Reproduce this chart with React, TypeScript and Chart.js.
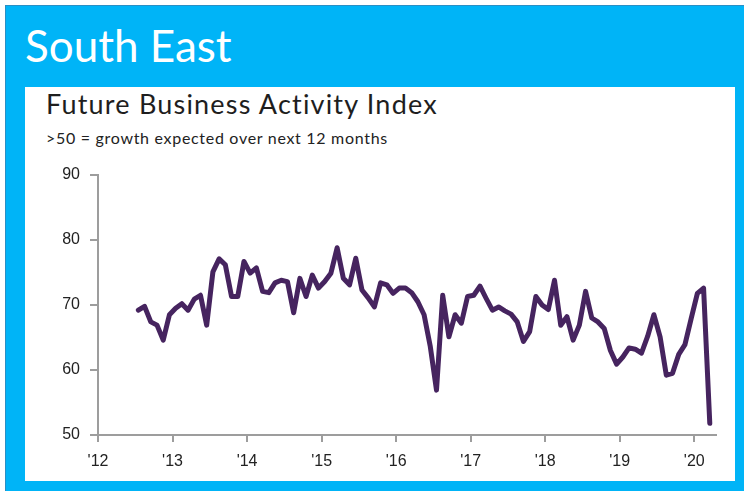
import React, { useEffect, useRef } from "react";
import { Chart, registerables } from "chart.js";

Chart.register(...registerables);

// Monthly Future Business Activity Index, South East (Jul 2012 – Mar 2020)
const startYear = 2012;
const startMonth = 6; // July (0 = January)
const values2012 = [69.2, 69.8, 67.4, 66.9, 64.6, 68.5];
const values2013 = [69.5, 70.2, 69.2, 70.9, 71.5, 66.9, 75.1, 77.1, 76.2, 71.3, 71.3, 76.7];
const values2014 = [74.9, 75.7, 72.1, 71.9, 73.4, 73.8, 73.6, 68.8, 74.1, 71.3, 74.6, 72.6];
const values2015 = [73.6, 74.9, 78.8, 74.1, 73.1, 77.2, 72.3, 71.1, 69.7, 73.4, 73.1, 71.8];
const values2016 = [72.6, 72.6, 71.9, 70.5, 68.5, 63.6, 56.9, 71.5, 65.1, 68.5, 67.2, 71.3];
const values2017 = [71.5, 72.9, 71.0, 69.2, 69.7, 69.1, 68.6, 67.4, 64.4, 65.9, 71.3, 70.0];
const values2018 = [69.3, 73.8, 66.9, 68.2, 64.6, 66.9, 72.1, 68.0, 67.4, 66.4, 63.0, 60.9];
const values2019 = [62.0, 63.4, 63.2, 62.6, 65.2, 68.5, 65.1, 59.2, 59.5, 62.4, 63.9, 67.9];
const values2020 = [71.8, 72.6, 51.8];

const yearTickLabels = ["'12", "'13", "'14", "'15", "'16", "'17", "'18", "'19", "'20"];
const yTicks = [50, 60, 70, 80, 90];

const allValues = [
  ...values2012, ...values2013, ...values2014, ...values2015, ...values2016,
  ...values2017, ...values2018, ...values2019, ...values2020,
];

export default function App() {
  const canvasRef = useRef<HTMLCanvasElement | null>(null);

  useEffect(() => {
    document.body.style.margin = "0";
    const canvas = canvasRef.current;
    if (!canvas) return;
    // x = months since Jan of startYear, plotted mid-month
    const points = allValues.map((v, i) => ({ x: startMonth + i + 0.5, y: v }));
    const axisColor = "#9d9d9d";
    const tickFont = { family: "'Liberation Sans Narrow', 'Liberation Sans', Arial, sans-serif", size: 16 };
    const chart = new Chart(canvas, {
      type: "line",
      data: {
        datasets: [
          {
            label: "South East",
            data: points,
            borderColor: "#46245f",
            borderWidth: 5,
            pointRadius: 0,
            tension: 0,
            borderJoinStyle: "round",
            borderCapStyle: "round",
            fill: false,
          },
        ],
      },
      options: {
        animation: false,
        responsive: false,
        devicePixelRatio: 1,
        layout: { padding: { top: 88, right: 19, left: 0, bottom: 0 } },
        plugins: { legend: { display: false }, tooltip: { enabled: false }, title: { display: false } },
        scales: {
          x: {
            type: "linear",
            min: 0,
            max: 99.5,
            afterBuildTicks: (scale: any) => {
              scale.ticks = yearTickLabels.map((_, i) => ({ value: i * 12 }));
            },
            afterFit: (scale: any) => {
              scale.height = 46;
            },
            ticks: {
              autoSkip: false,
              maxRotation: 0,
              color: "#222222",
              font: tickFont,
              padding: 10,
              callback: (value: any) => yearTickLabels[Math.round(Number(value) / 12)] ?? "",
            },
            grid: { drawOnChartArea: false, drawTicks: true, tickLength: 7, color: axisColor, lineWidth: 2 },
            border: { display: true, color: axisColor, width: 2 },
          },
          y: {
            min: 50,
            max: 90,
            afterBuildTicks: (scale: any) => {
              scale.ticks = yTicks.map((v) => ({ value: v }));
            },
            afterFit: (scale: any) => {
              scale.width = 73;
            },
            ticks: { color: "#222222", font: tickFont, padding: 10 },
            grid: { drawOnChartArea: false, drawTicks: true, tickLength: 8, color: axisColor, lineWidth: 2 },
            border: { display: true, color: axisColor, width: 2 },
          },
        },
      },
    } as any);
    return () => chart.destroy();
  }, []);

  return (
    <div style={{ position: "absolute", left: 0, top: 0, width: 744, height: 491, background: "#ffffff", overflow: "hidden" }}>
      <div
        style={{
          position: "absolute",
          left: 5,
          top: 5,
          width: 739,
          height: 486,
          background: "#00b4f7",
          borderLeft: "1px solid #2a8fc4",
          borderTop: "1px solid #2a8fc4",
          boxSizing: "border-box",
        }}
      />
      <div
        style={{
          position: "absolute",
          left: 25,
          top: 18,
          fontFamily: "Lato, 'Open Sans', sans-serif",
          fontSize: 44,
          lineHeight: "54px",
          color: "#ffffff",
          whiteSpace: "nowrap",
        }}
      >
        South East
      </div>
      <div style={{ position: "absolute", left: 25, top: 87, width: 710, height: 394, background: "#ffffff" }} />
      <div
        style={{
          position: "absolute",
          left: 46,
          top: 88,
          fontFamily: "Lato, 'Liberation Sans', sans-serif",
          fontSize: 27,
          lineHeight: "32px",
          letterSpacing: "1.2px",
          color: "#1e1e1e",
          whiteSpace: "nowrap",
        }}
      >
        Future Business Activity Index
      </div>
      <div
        style={{
          position: "absolute",
          left: 46,
          top: 128,
          fontFamily: "Lato, 'Liberation Sans', sans-serif",
          fontSize: 16,
          lineHeight: "20px",
          letterSpacing: "0.7px",
          color: "#222222",
          whiteSpace: "nowrap",
        }}
      >
        &gt;50 = growth expected over next 12 months
      </div>
      <canvas
        ref={canvasRef}
        width={710}
        height={394}
        style={{ position: "absolute", left: 25, top: 87, width: 710, height: 394 }}
      />
    </div>
  );
}
